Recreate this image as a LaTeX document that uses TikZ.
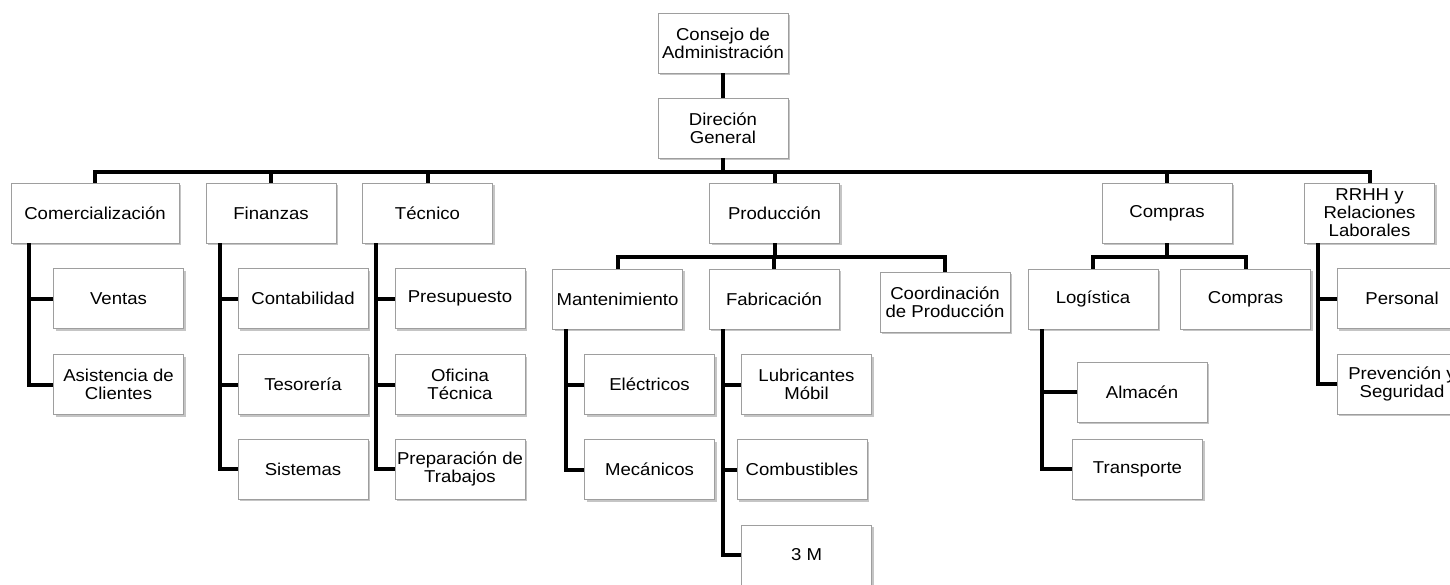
\documentclass[tikz,border=0pt]{standalone}
\usepackage{fontspec}
\setmainfont{Liberation Sans}[FakeStretch=1.08]
\usetikzlibrary{positioning,shadows}
\tikzset{
		unit/.style={draw=black!38, fill=white,
			drop shadow={shadow xshift=1.2pt, shadow yshift=-1.2pt, fill=black!45},
			minimum width=65pt, minimum height=30pt, inner sep=1pt, align=center,
			font=\fontsize{8.6}{9}\selectfont},
		wideunit/.style={unit, minimum width=84pt},
		link/.style={black, line width=2pt}
	}

\begin{document}
\begin{tikzpicture}[x=0.5pt,y=-0.5pt]
		\useasboundingbox (0,0) rectangle (1450,584);
		% Top
		\node[unit] (cons) at (723,43) {Consejo de\\Administración};
		\node[unit] (dir) at (723,128) {Direción\\General};
		% Departments
		\node[wideunit] (com) at (95,213) {Comercialización};
		\node[unit] (fin) at (271,213) {Finanzas};
		\node[unit] (tec) at (427.5,213) {Técnico};
		\node[unit] (pro) at (774.5,213) {Producción};
		\node[unit] (cmp) at (1167,213) {Compras};
		\node[unit] (rrhh) at (1369.5,213) {RRHH y\\Relaciones\\Laborales};
		% Comercializacion
		\node[unit] (ven) at (118.5,298.5) {Ventas};
		\node[unit] (asi) at (118.5,384.5) {Asistencia de\\Clientes};
		% Finanzas
		\node[unit] (cont) at (303,298.5) {Contabilidad};
		\node[unit] (teso) at (303,384.5) {Tesorería};
		\node[unit] (sis) at (303,469) {Sistemas};
		% Tecnico
		\node[unit] (pres) at (460,298.5) {Presupuesto};
		\node[unit] (ofi) at (460,384.5) {Oficina\\Técnica};
		\node[unit] (prep) at (460,469) {Preparación de\\Trabajos};
		% Produccion
		\node[unit] (mant) at (617.5,299) {Mantenimiento};
		\node[unit] (fab) at (774,299) {Fabricación};
		\node[unit] (coord) at (945,302) {Coordinación\\de Producción};
		\node[unit] (ele) at (649.5,384.5) {Eléctricos};
		\node[unit] (mec) at (649.5,469.5) {Mecánicos};
		\node[unit] (lub) at (806.5,384.5) {Lubricantes\\Móbil};
		\node[unit] (comb) at (802,469.5) {Combustibles};
		\node[unit] (tresm) at (806.5,555) {3 M};
		% Compras
		\node[unit] (log) at (1093,299) {Logística};
		\node[unit] (cmpb) at (1245.5,299) {Compras};
		\node[unit] (alm) at (1142,392) {Almacén};
		\node[unit] (tra) at (1137.5,469) {Transporte};
		% RRHH
		\node[unit] (per) at (1402,298.5) {Personal};
		\node[unit] (prev) at (1402,384) {Prevención y\\Seguridad};
		% Connectors
		\coordinate (bus) at (723,172);
		\coordinate (pbus) at (774.5,257);
		\coordinate (cbus) at (1167,257);
		\draw[link] (cons) -- (dir);
		\draw[link] (dir) -- (bus);
		\foreach \n in {com,fin,tec,pro,cmp,rrhh}
			\draw[link] (\n.north) |- (bus);
		\draw[link] (pro) -- (pbus);
		\foreach \n in {mant,fab,coord}
			\draw[link] (\n.north) |- (pbus);
		\draw[link] (cmp) -- (cbus);
		\foreach \n in {log,cmpb}
			\draw[link] (\n.north) |- (cbus);
		\foreach \p/\c in {com/ven,com/asi}
			\draw[link] ([xshift=9pt]\p.south west) |- (\c.west);
		\foreach \p/\c in {fin/cont,fin/teso,fin/sis,tec/pres,tec/ofi,tec/prep,mant/ele,mant/mec,fab/lub,fab/comb,fab/tresm,log/alm,log/tra,rrhh/per,rrhh/prev}
			\draw[link] ([xshift=7pt]\p.south west) |- (\c.west);
	\end{tikzpicture}
\end{document}
